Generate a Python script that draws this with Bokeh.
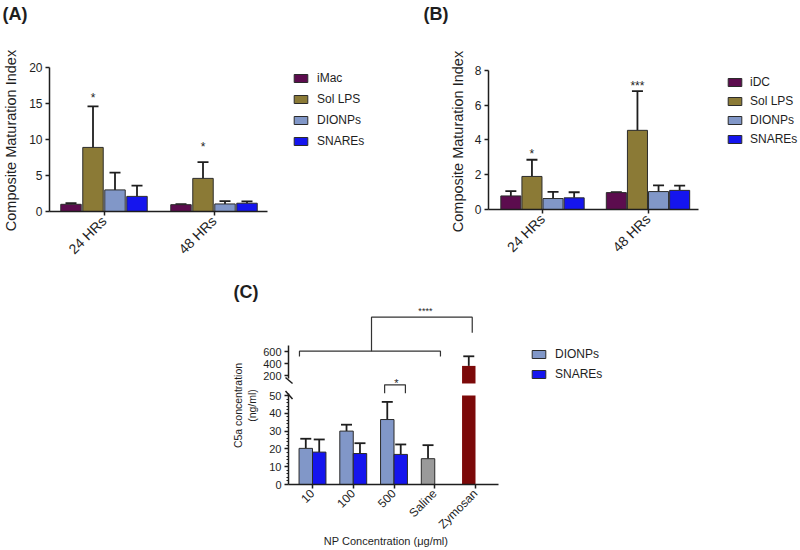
import math
from bokeh.plotting import figure
from bokeh.models import (Range1d, LinearAxis, FixedTicker, Label, Legend, LegendItem,
                          Whisker, TeeHead, ColumnDataSource)
from bokeh.embed import file_html
from bokeh.resources import INLINE

# ---------------- data ----------------
time_points = ["24 HRs", "48 HRs"]

a_series = ["iMac", "Sol LPS", "DIONPs", "SNAREs"]
a_imac = [1.0, 0.95]
a_imac_sd = [0.15, 0.08]
a_lps = [8.9, 4.6]
a_lps_sd = [5.7, 2.25]
a_dionps = [3.0, 1.05]
a_dionps_sd = [2.4, 0.4]
a_snares = [2.1, 1.15]
a_snares_sd = [1.5, 0.25]
a_stars = ["*", "*"]

b_series = ["iDC", "Sol LPS", "DIONPs", "SNAREs"]
b_idc = [0.78, 0.97]
b_idc_sd = [0.28, 0.03]
b_lps = [1.9, 4.55]
b_lps_sd = [0.96, 2.25]
b_dionps = [0.63, 1.03]
b_dionps_sd = [0.38, 0.36]
b_snares = [0.67, 1.1]
b_snares_sd = [0.32, 0.27]
b_stars = ["*", "***"]

c_categories = ["10", "100", "500", "Saline", "Zymosan"]
c_series = ["DIONPs", "SNAREs"]
c_dionps = [20.3, 30.0, 36.5]
c_dionps_sd = [5.4, 3.6, 9.9]
c_snares = [18.2, 17.4, 16.9]
c_snares_sd = [7.1, 5.8, 5.6]
c_saline = [14.5]
c_saline_sd = [7.6]
c_zymosan = [360.0]
c_zymosan_sd = [160.0]

a_ticks = [0, 5, 10, 15, 20]
b_ticks = [0, 2, 4, 6, 8]
c_low_ticks = [0, 10, 20, 30, 40, 50]
c_low_minor = [2, 4, 6, 8, 12, 14, 16, 18, 22, 24, 26, 28, 32, 34, 36, 38, 42, 44, 46, 48]
c_high_ticks = [200, 400, 600]

# ---------------- styles ----------------
FONT = "Liberation Sans"
COL_IMAC = "#5c0c4e"
COL_LPS = "#8b7a36"
COL_DIONPS = "#8197c8"
COL_SNARES = "#1515ee"
COL_SALINE = "#9a9a9a"
COL_ZYM = "#7c0909"
EDGE = "#2b2b2b"
INK = "#1e1e1e"

W, H = 800, 550


def by(y_screen):
    return H - y_screen


def lin_range(zero_px, ppu, total):
    return Range1d(start=-zero_px / ppu, end=(total - zero_px) / ppu)


p = figure(width=W, height=H, x_range=Range1d(0, W), y_range=Range1d(0, H),
           toolbar_location=None, output_backend="svg",
           x_axis_location=None, y_axis_location=None, min_border=0,
           outline_line_color=None)
for g in p.grid:
    g.visible = False

p.extra_x_ranges = {"ax": lin_range(103.5, 110.0, W),
                    "bx": lin_range(542.0, 105.5, W),
                    "cx": lin_range(312.0, 40.75, W)}
p.extra_y_ranges = {"ay": lin_range(by(211), 7.2, H),
                    "by": lin_range(by(209), 17.4, H),
                    "cl": lin_range(by(484), 1.78, H),
                    "cu": lin_range(by(375) - 200 * 0.06, 0.06, H)}


def style_axis(ax, size="12px"):
    ax.axis_line_color = INK
    ax.axis_line_width = 1.5
    ax.major_tick_line_color = INK
    ax.major_tick_line_width = 1.5
    ax.major_tick_out = 4
    ax.major_tick_in = 0
    ax.minor_tick_line_color = INK
    ax.minor_tick_line_width = 1
    ax.minor_tick_out = 2
    ax.minor_tick_in = 0
    ax.major_label_text_font = FONT
    ax.major_label_text_font_size = size
    ax.major_label_text_color = INK
    ax.major_label_standoff = 3


def add_y_axis(xr, yr, loc, bounds, ticks, minor=None, size="12px"):
    ax = LinearAxis(x_range_name=xr, y_range_name=yr, fixed_location=loc, bounds=bounds,
                    ticker=FixedTicker(ticks=ticks, minor_ticks=minor or []))
    style_axis(ax, size)
    p.add_layout(ax, "left")
    return ax


def add_x_axis(xr, yr, bounds, labels, size):
    ax = LinearAxis(x_range_name=xr, y_range_name=yr, fixed_location=0, bounds=bounds,
                    ticker=FixedTicker(ticks=list(range(len(labels)))),
                    major_label_overrides={i: t for i, t in enumerate(labels)},
                    major_label_orientation=math.pi / 4)
    style_axis(ax, size)
    p.add_layout(ax, "below")
    return ax


def add_bars(xr, yr, xs, vals, sds, color, width, err_color=INK):
    src = ColumnDataSource(dict(x=xs, top=vals, upper=[v + s for v, s in zip(vals, sds)]))
    r = p.vbar(x="x", top="top", bottom=0, width=width, source=src, fill_color=color,
               line_color=EDGE, line_width=1, x_range_name=xr, y_range_name=yr)
    w = Whisker(source=src, base="x", lower="top", upper="upper", dimension="height",
                line_color=err_color, line_width=1.8,
                upper_head=TeeHead(size=11, line_color=err_color, line_width=1.8),
                lower_head=None, x_range_name=xr, y_range_name=yr)
    p.add_layout(w)
    return r


def add_legend(names, renderers, x, y, spacing, standoff=8):
    leg = Legend(items=[LegendItem(label=n, renderers=[r]) for n, r in zip(names, renderers)],
                 location=(x, y), orientation="vertical", glyph_width=17, glyph_height=10,
                 label_height=10, label_standoff=standoff, spacing=spacing, padding=0, margin=0,
                 border_line_color=None, background_fill_alpha=0,
                 label_text_font=FONT, label_text_font_size="12px", label_text_color=INK)
    p.add_layout(leg)


def label(x, y, text, size, xr="default", yr="default", bold=False, angle=0.0,
          align="center", baseline="middle"):
    p.add_layout(Label(x=x, y=y, text=text, x_range_name=xr, y_range_name=yr,
                       text_font=FONT, text_font_size=size,
                       text_font_style="bold" if bold else "normal",
                       text_color=INK, angle=angle, text_align=align,
                       text_baseline=baseline))


offsets4 = [-0.3, -0.1, 0.1, 0.3]
cols4 = [COL_IMAC, COL_LPS, COL_DIONPS, COL_SNARES]

# ---------------- panel A ----------------
a_vals = [a_imac, a_lps, a_dionps, a_snares]
a_sds = [a_imac_sd, a_lps_sd, a_dionps_sd, a_snares_sd]
rA = []
for k in range(4):
    xs = [g + offsets4[k] for g in range(len(time_points))]
    rA.append(add_bars("ax", "ay", xs, a_vals[k], a_sds[k], cols4[k], 0.186))
add_y_axis("ax", "ay", -0.4955, (0, 20), a_ticks)
add_x_axis("ax", "ay", (-0.4955, 1.486), time_points, "14px")
add_legend(a_series, rA, 292, by(148), 7)
for g, s in enumerate(a_stars):
    yb = [15.8, 8.9][g]
    label(g + offsets4[1], yb, s, "12px", "ax", "ay", baseline="alphabetic")
label(2, by(3), "(A)", "18px", bold=True, align="left", baseline="top")
label(10, by(138), "Composite  Maturation Index", "14.5px", angle=math.pi / 2)

# ---------------- panel B ----------------
b_vals = [b_idc, b_lps, b_dionps, b_snares]
b_sds = [b_idc_sd, b_lps_sd, b_dionps_sd, b_snares_sd]
rB = []
for k in range(4):
    xs = [g + offsets4[k] for g in range(len(time_points))]
    rB.append(add_bars("bx", "by", xs, b_vals[k], b_sds[k], cols4[k], 0.19))
add_y_axis("bx", "by", -0.512, (0, 8), b_ticks)
add_x_axis("bx", "by", (-0.512, 1.479), time_points, "14px")
add_legend(b_series, rB, 726, by(145.5), 5, standoff=7)
for g, s in enumerate(b_stars):
    yb = [3.18, 7.1][g]
    label(g + offsets4[1], yb, s, "12px", "bx", "by", baseline="alphabetic")
label(423, by(3), "(B)", "18px", bold=True, align="left", baseline="top")
label(457, by(139), "Composite  Maturation Index", "14.5px", angle=math.pi / 2)

# ---------------- panel C ----------------
LOW_TOP = 50
UP_BOTTOM = 67
c_off = 0.165
c_w = 0.33
rCd = add_bars("cx", "cl", [i - c_off for i in range(3)], c_dionps, c_dionps_sd, COL_DIONPS, c_w)
rCs = add_bars("cx", "cl", [i + c_off for i in range(3)], c_snares, c_snares_sd, COL_SNARES, c_w)
add_bars("cx", "cl", [3 - c_off], c_saline, c_saline_sd, COL_SALINE, c_w)
# Zymosan: lower segment clipped at the break, upper segment continues above it
p.vbar(x=[4 - c_off], top=[min(v, LOW_TOP) for v in c_zymosan], bottom=0, width=c_w,
       fill_color=COL_ZYM, line_color=None, x_range_name="cx", y_range_name="cl")
zsrc = ColumnDataSource(dict(x=[4 - c_off], top=c_zymosan,
                             upper=[v + s for v, s in zip(c_zymosan, c_zymosan_sd)]))
p.vbar(x="x", top="top", bottom=UP_BOTTOM, width=c_w, source=zsrc, fill_color=COL_ZYM,
       line_color=None, x_range_name="cx", y_range_name="cu")
p.add_layout(Whisker(source=zsrc, base="x", lower="top", upper="upper", dimension="height",
                     line_color=INK, line_width=1.8,
                     upper_head=TeeHead(size=11, line_color=INK, line_width=1.8),
                     lower_head=None, x_range_name="cx", y_range_name="cu"))

add_y_axis("cx", "cl", -0.589, (0, 51), c_low_ticks, c_low_minor, "11px")
add_y_axis("cx", "cu", -0.589, (150, 700), c_high_ticks, None, "11px")
add_x_axis("cx", "cl", (-0.589, 4.564), c_categories, "12px")
# axis break marks
p.segment(x0=[-0.663], y0=[167], x1=[-0.49], y1=[67], line_color=INK, line_width=1.5,
          x_range_name="cx", y_range_name="cu")
p.segment(x0=[-0.663], y0=[52.5], x1=[-0.49], y1=[48.0], line_color=INK, line_width=1.5,
          x_range_name="cx", y_range_name="cl")

add_legend(c_series, [rCd, rCs], 530, by(381), 6)

# significance brackets
p.multi_line(xs=[[-0.32, -0.32, 3.14, 3.14], [1.448, 1.448, 3.92, 3.92]],
             ys=[[517, 605, 605, 517], [605, 1172, 1172, 912]],
             line_color="#333333", line_width=1.2, x_range_name="cx", y_range_name="cu")
p.multi_line(xs=[[1.77, 1.77, 2.28, 2.28]], ys=[[51.3, 56.0, 56.0, 51.3]],
             line_color="#333333", line_width=1.2, x_range_name="cx", y_range_name="cl")
label(2.06, 57.0, "*", "11px", "cx", "cl", baseline="alphabetic")
label(2.77, 1283, "****", "9px", "cx", "cu", baseline="alphabetic")

label(233, by(281), "(C)", "18px", bold=True, align="left", baseline="top")
label(237, by(405), "C5a concentration", "10.5px", angle=math.pi / 2)
label(251, by(405), "(ng/ml)", "10.5px", angle=math.pi / 2)
label(385.5, by(540), "NP Concentration (\u03bcg/ml)", "11px")

open("out.html", "w").write(file_html(p, INLINE))
